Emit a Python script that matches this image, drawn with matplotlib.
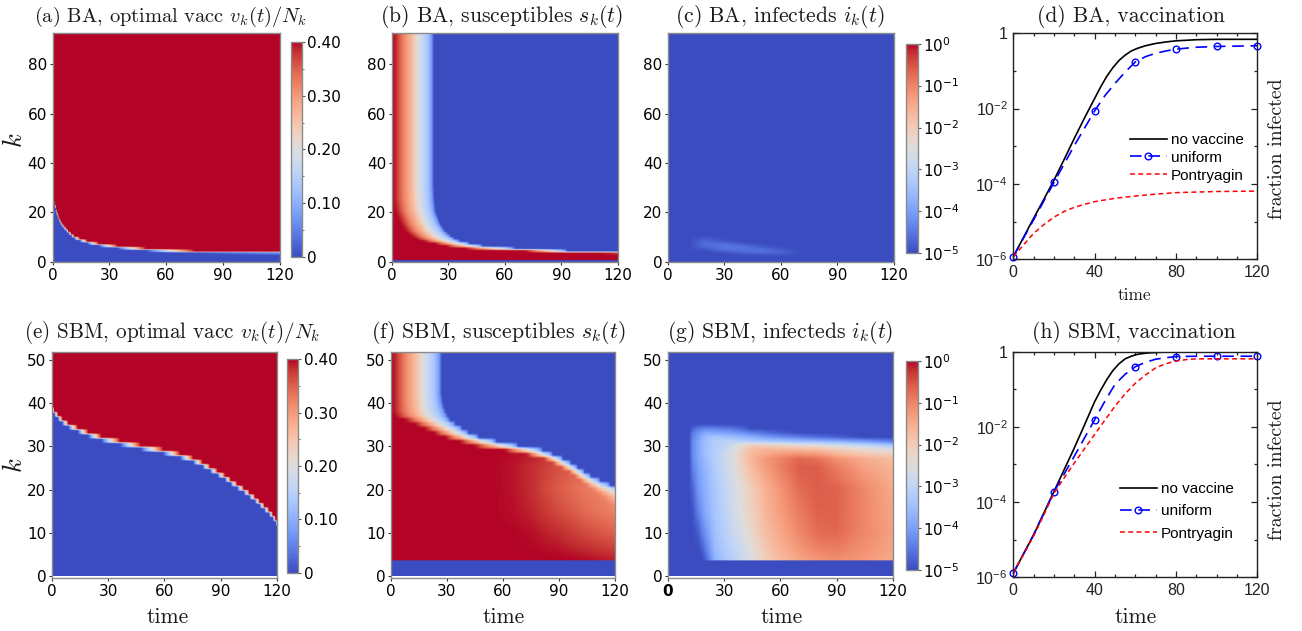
import numpy as np
import matplotlib
matplotlib.use("Agg")
import matplotlib.pyplot as plt
from matplotlib.colors import Normalize, LogNorm
from matplotlib.ticker import MultipleLocator, FixedLocator, NullLocator

plt.rcParams['mathtext.fontset'] = 'cm'
plt.rcParams['axes.unicode_minus'] = False
W, H = 1302, 631

# ---- read values -------------------------------------------------------
# (a) time at which each degree row k has reached the cap
ba_vacc_k   = [3, 4, 5, 6, 7, 8, 9, 10, 11, 12, 13, 14, 15, 16, 17, 18, 19, 20, 21, 22, 23, 24, 25, 26]
ba_vacc_end = [400, 75, 49, 34, 24, 18, 14, 11, 9.5, 8, 6.8, 5.6, 4.6, 3.8, 3.1, 2.6, 2.2, 1.8, 1.4, 1.1, .8, .5, .25, 0]
# (e)
sbm_vacc_k   = list(range(11, 39))
sbm_vacc_end = [400, 120.5, 119, 117.5, 115.5, 113, 110.5, 108, 105, 102, 98.5, 95, 92, 88, 84, 80, 75, 68, 59, 47,
                36, 26, 19, 13.5, 8.5, 5.2, 3, 1]
# (b) start and end of the red-to-blue front per row
ba_sus_k     = [2, 3, 4, 5, 6, 7, 8, 9, 10, 12, 15, 20, 25, 30, 93]
ba_sus_start = [999, 110, 70, 38, 28, 22, 16, 12, 9.5, 6.5, 4, 1.2, 0, 0, 0]
ba_sus_end   = [1200, 200, 93, 65, 48, 41, 36, 33, 31, 28, 25.5, 23, 22.3, 22, 22]
# (f)
sbm_sus_start_k = [4, 14.3, 19.7, 24.3, 27.3, 28.9, 30, 32.3, 35, 37, 38, 52]
sbm_sus_start   = [300, 120, 108, 94, 80, 62, 44, 26, 12, 1.4, 0, 0]
sbm_sus_end_k   = [4, 20.5, 22.7, 26.6, 29.2, 30.4, 32.3, 35.7, 37.5, 39.5, 42, 52]
sbm_sus_end     = [300, 120, 108, 94, 80, 62, 44, 32, 29.5, 27.8, 27, 27]
# colour position across a front
front_pos = [0, .08, .27, .48, .62, .85, .95, 1]
front_col = [1, .97, .80, .65, .50, .33, .18, 0]
# (f) plateau level behind the front
plateau_t = [0, 45, 55, 65, 75, 90, 105, 120]
plateau_k = [4, 10, 15, 20, 25, 30, 52]
plateau = [[1, 1, 1, 1.00, 1.00, 1.00, .99, .97],
           [1, 1, 1, .998, .99, .96, .91, .87],
           [1, 1, .998, .99, .97, .91, .85, .80],
           [1, 1, .998, .985, .96, .88, .82, .79],
           [1, 1, .998, .985, .96, .90, .85, .82],
           [1, 1, 1, .995, .99, .95, .90, .86],
           [1, 1, 1, 1, 1.0, 1.0, 1.0, 1.0]]
# (c) colour position of the faint ridge
ba_inf_t = [0, 10, 20, 30, 40, 50, 60, 70, 120]
ba_inf_k = [2, 3, 4, 5, 6, 7, 8, 9, 10, 11]
ba_inf = [[0, 0, 0, 0, 0, 0, 0, 0, 0],
          [0, 0, 0, 0, .02, .03, .03, 0, 0],
          [0, 0, 0, .03, .07, .08, .06, .01, 0],
          [0, 0, .03, .08, .09, .08, .03, 0, 0],
          [0, 0, .06, .10, .09, .04, .01, 0, 0],
          [0, 0, .08, .09, .05, .01, 0, 0, 0],
          [0, 0, .07, .05, .01, 0, 0, 0, 0],
          [0, 0, .05, .01, 0, 0, 0, 0, 0],
          [0, 0, .02, 0, 0, 0, 0, 0, 0],
          [0, 0, 0, 0, 0, 0, 0, 0, 0]]
# (g)
sbm_inf_t = [0, 11, 13, 16, 18, 20, 25, 33, 40, 45, 52, 60, 70, 80, 90, 105, 120]
sbm_inf_k = [3, 4, 6, 10, 15, 20, 25, 27, 28, 29, 30, 31, 32, 33, 34, 35, 52]
sbm_inf = [[0, 0, 0, 0, 0, .06, .27, .36, .44, .49, .59, .66, .72, .76, .78, .75, .71],
           [0, 0, 0, 0, 0, .06, .27, .36, .44, .49, .59, .66, .72, .76, .78, .75, .71],
           [0, 0, 0, 0, .04, .11, .29, .38, .45, .51, .61, .68, .75, .80, .81, .77, .72],
           [0, 0, 0, .04, .12, .18, .31, .41, .49, .55, .65, .71, .79, .85, .86, .79, .73],
           [0, 0, .02, .13, .19, .24, .33, .43, .52, .58, .67, .74, .82, .87, .87, .79, .72],
           [0, 0, .06, .18, .22, .26, .34, .44, .53, .60, .69, .76, .85, .88, .87, .79, .71],
           [0, 0, .12, .20, .24, .28, .36, .46, .58, .66, .74, .81, .88, .88, .82, .73, .68],
           [0, 0, .14, .22, .26, .30, .37, .47, .60, .68, .75, .80, .86, .84, .77, .70, .65],
           [0, 0, .15, .22, .27, .31, .37, .47, .60, .67, .71, .75, .77, .75, .68, .62, .58],
           [0, 0, .15, .22, .27, .31, .37, .45, .58, .65, .68, .68, .68, .66, .60, .55, .50],
           [0, 0, .15, .22, .27, .31, .36, .42, .55, .60, .60, .58, .55, .52, .48, .42, .35],
           [0, 0, .15, .22, .27, .31, .36, .40, .38, .36, .34, .32, .30, .28, .25, .20, .12],
           [0, 0, .13, .20, .25, .29, .33, .30, .27, .25, .20, .16, .12, .08, .05, 0, 0],
           [0, 0, .10, .17, .20, .23, .22, .20, .16, .12, .08, .04, 0, 0, 0, 0, 0],
           [0, 0, .05, .10, .12, .14, .12, .10, .05, 0, 0, 0, 0, 0, 0, 0, 0],
           [0]*17,
           [0]*17]

# (d) log10 fraction infected
d_none_t = [0, 5, 10, 15, 20, 25, 30, 35, 40, 43, 46, 49, 52, 55, 58, 61, 65, 70, 75, 80, 90, 100, 120]
d_none   = [-5.93, -5.42, -4.91, -4.41, -3.9, -3.35, -2.79, -2.25, -1.73, -1.42, -1.14, -.91, -.72, -.58, -.47, -.40,
            -.33, -.27, -.23, -.2, -.17, -.16, -.16]
d_unif_t = [0, 10, 20, 30, 40, 45, 50, 55, 60, 65, 70, 75, 80, 90, 100, 110, 120]
d_unif   = [-5.93, -4.95, -3.96, -2.98, -2.06, -1.66, -1.33, -1.03, -.76, -.62, -.53, -.47, -.42, -.37, -.35, -.34, -.33]
d_pont_t = [0, 5, 10, 15, 20, 25, 30, 35, 40, 50, 60, 70, 80, 100, 120]
d_pont   = [-5.93, -5.62, -5.31, -5.08, -4.88, -4.73, -4.62, -4.54, -4.47, -4.38, -4.32, -4.27, -4.23, -4.2, -4.19]
# (h)
h_none_t = [0, 10, 20, 30, 35, 40, 43, 46, 49, 52, 55, 58, 61, 65, 70, 75, 80, 120]
h_none   = [-5.89, -4.87, -3.72, -2.56, -1.95, -1.33, -1.02, -.74, -.50, -.32, -.19, -.12, -.07, -.04, -.02, -.01, 0, 0]
h_unif_t = [0, 10, 20, 30, 40, 45, 50, 55, 60, 65, 70, 75, 80, 90, 100, 110, 120]
h_unif   = [-5.89, -4.87, -3.73, -2.78, -1.81, -1.32, -.87, -.60, -.40, -.28, -.2, -.16, -.13, -.12, -.12, -.12, -.12]
h_pont_t = [0, 10, 15, 20, 30, 40, 50, 55, 60, 65, 70, 75, 80, 85, 90, 100, 120]
h_pont   = [-5.89, -4.9, -4.34, -3.76, -2.96, -2.2, -1.45, -1.12, -.84, -.62, -.43, -.32, -.25, -.21, -.19, -.19, -.19]

time_ticks = [0, 30, 60, 90, 120]
curve_ticks = [0, 40, 80, 120]
ba_k_ticks = [0, 20, 40, 60, 80]
sbm_k_ticks = [0, 10, 20, 30, 40, 50]
vacc_ticks = [0, .1, .2, .3, .4]
vacc_labels = ['0', '0.10', '0.20', '0.30', '0.40']
log_ticks = [1e-5, 1e-4, 1e-3, 1e-2, 1e-1, 1]
log_labels = [r'$\mathdefault{10^{-5}}$', r'$\mathdefault{10^{-4}}$', r'$\mathdefault{10^{-3}}$',
              r'$\mathdefault{10^{-2}}$', r'$\mathdefault{10^{-1}}$', r'$\mathdefault{10^{0}}$']
decades = [-6, -4, -2, 0]
decade_labels = [r'$\mathdefault{10^{-6}}$', r'$\mathdefault{10^{-4}}$', r'$\mathdefault{10^{-2}}$', '1']

# ---- grids built from the tables --------------------------------------
tg = np.arange(0, 120.01, 0.5)


def refine(rows, Z, kf, blend=1.0):
    """Values on the fine k grid; blend < 1 keeps the rows visibly stepped."""
    Z = np.asarray(Z, float)
    rows = np.asarray(rows, float)
    i = np.clip(np.searchsorted(rows, kf) - 1, 0, rows.size - 2)
    u = (kf - rows[i]) / (rows[i + 1] - rows[i])
    u = np.clip((u - .5) / blend + .5, 0, 1)
    return Z[i] * (1 - u)[:, None] + Z[i + 1] * u[:, None]


def switch_rows(rows_k, ends, nrows):
    rows = np.arange(nrows)
    Z = np.ones((nrows, tg.size))
    for r in rows:
        if r < rows_k[0]:
            Z[r] = 0
        elif r <= rows_k[-1]:
            i = rows_k.index(r)
            end = ends[i]
            start = ends[i + 1] if i + 1 < len(ends) else 0
            Z[r] = np.clip((tg - start) / max(end - start, .2), 0, 1)
    return Z


def front_rows(starts, ends, levels=None):
    f = (tg[None, :] - starts[:, None]) / (ends - starts)[:, None]
    v = np.interp(f, front_pos, front_col)
    return v if levels is None else v * levels


def table_rows(rows, t_knots, table, kf):
    by_t = np.array([np.interp(tg, t_knots, row) for row in table])
    return refine(rows, by_t, kf)


vacc_norm = Normalize(0, .4)
log_norm = LogNorm(1e-5, 1)
to_log = lambda v: 10.0 ** (5 * (v - 1))

kf_ba = np.arange(0, 93.01, .1)
kf_sbm = np.arange(0, 52.01, .05)

Z_a = .4 * refine(np.arange(94) + .5, switch_rows(ba_vacc_k, ba_vacc_end, 94), kf_ba, .45)
Z_e = .4 * refine(np.arange(53) + .2, switch_rows(sbm_vacc_k, sbm_vacc_end, 53), kf_sbm, .35)

rows_b = np.arange(94)
V_b = front_rows(np.interp(rows_b, ba_sus_k, ba_sus_start), np.interp(rows_b, ba_sus_k, ba_sus_end))
V_b = refine(rows_b + .5, V_b, kf_ba, .7)
V_b[kf_ba < .8] = 0

rows_f = np.arange(53)
plate = np.array([np.interp(tg, plateau_t, row) for row in plateau])
plate = refine(plateau_k, plate, rows_f)
V_f = front_rows(np.interp(rows_f, sbm_sus_start_k, sbm_sus_start),
                 np.interp(rows_f, sbm_sus_end_k, sbm_sus_end), plate)
V_f = refine(rows_f, V_f, kf_sbm, .7)
V_f[kf_sbm < 3.6] = 0

V_c = table_rows(ba_inf_k, ba_inf_t, ba_inf, kf_ba)
V_g = table_rows(sbm_inf_k, sbm_inf_t, sbm_inf, kf_sbm)
V_g[kf_sbm < 3.6] = 0

# ---- figure -----------------------------------------------------------
fig = plt.figure(figsize=(W / 100, H / 100), dpi=100)


def box(x0, y0, x1, y1):
    return [x0 / W, 1 - y1 / H, (x1 - x0) / W, (y1 - y0) / H]


SERIF = 'cmr10'


def ftext(x, y, s, size, **kw):
    kw.setdefault('ha', 'center')
    kw.setdefault('va', 'center')
    fig.text(x / W, 1 - y / H, s, fontsize=size, family=SERIF, color='#1a1a1a', **kw)


def heat(rect, Z, norm, kf, yticks, ylim):
    ax = fig.add_axes(box(*rect))
    im = ax.imshow(Z, origin='lower', aspect='auto', cmap='coolwarm', norm=norm,
                   extent=[0, 120, kf[0], kf[-1]], interpolation='bilinear')
    ax.set_xlim(0, 120)
    ax.set_ylim(*ylim)
    ax.set_xticks(time_ticks)
    ax.set_yticks(yticks)
    ax.tick_params(labelsize=11, length=2.5, width=.8, pad=1.5, color='#333333')
    for s in ax.spines.values():
        s.set_color('#8a8a8a')
        s.set_linewidth(1)
    return ax, im


def cbar(rect, im, ticks, labels, minor=None):
    cax = fig.add_axes(box(*rect))
    cb = fig.colorbar(im, cax=cax)
    cb.set_ticks(ticks)
    cb.set_ticklabels(labels)
    cax.yaxis.set_minor_locator(FixedLocator(minor) if minor else NullLocator())
    cax.tick_params(which='major', labelsize=11, length=2.5, width=.8, pad=1.5, color='#555555')
    cax.tick_params(which='minor', length=1.5, width=.6, color='#555555')
    cb.outline.set_edgecolor('#8a8a8a')
    cb.outline.set_linewidth(1)
    return cb


ylim_ba = (-.2, 92.7)
ylim_sbm = (-.4, 51.8)
vacc_minor = [.05, .15, .25, .35]

ax_a, im = heat((52.5, 33, 279.5, 262), Z_a, vacc_norm, kf_ba, ba_k_ticks, ylim_ba)
cbar((290.7, 42.3, 301.7, 256.7), im, vacc_ticks, vacc_labels, vacc_minor)
heat((391.7, 33, 617.7, 262), to_log(V_b), log_norm, kf_ba, ba_k_ticks, ylim_ba)
ax_c, im = heat((668, 33, 893.7, 262), to_log(V_c), log_norm, kf_ba, ba_k_ticks, ylim_ba)
cbar((905.7, 43.7, 917.7, 253.3), im, log_ticks, log_labels)

ax_e, im = heat((51.7, 351.7, 277, 578), Z_e, vacc_norm, kf_sbm, sbm_k_ticks, ylim_sbm)
cbar((287.3, 359.3, 298.3, 572.7), im, vacc_ticks, vacc_labels, vacc_minor)
heat((390.7, 351.7, 615, 578), to_log(V_f), log_norm, kf_sbm, sbm_k_ticks, ylim_sbm)
ax_g, im = heat((668, 351.7, 892.7, 578), to_log(V_g), log_norm, kf_sbm, sbm_k_ticks, ylim_sbm)
cbar((905.7, 361, 917.7, 570), im, log_ticks, log_labels)
ax_g.get_xticklabels()[0].set_fontweight('bold')


def curves(rect, none, unif, pont, legend_xy, spacing):
    ax = fig.add_axes(box(*rect))
    ax.plot(none[0], 10.0 ** np.array(none[1]), color='black', lw=1.2, label='no vaccine')
    marks = [i for i, t in enumerate(unif[0]) if t % 20 == 0]
    ax.plot(unif[0], 10.0 ** np.array(unif[1]), color='#0000ff', lw=1.2, dashes=(7, 4), marker='o', ms=4.8,
            mfc='none', mew=1.0, markevery=marks, label='uniform', clip_on=False)
    ax.plot(pont[0], 10.0 ** np.array(pont[1]), color='#ff0000', lw=1.1, dashes=(3.2, 2.2), label='Pontryagin')
    ax.set_yscale('log')
    ax.set_xlim(0, 120)
    ax.set_ylim(1e-6, 1)
    ax.set_xticks(curve_ticks)
    ax.xaxis.set_minor_locator(MultipleLocator(10))
    ax.yaxis.set_major_locator(FixedLocator([10.0 ** d for d in decades]))
    ax.set_yticklabels(decade_labels, family='Liberation Sans')
    ax.yaxis.set_minor_locator(FixedLocator([1e-5, 1e-3, 1e-1]))
    ax.yaxis.set_minor_formatter(plt.NullFormatter())
    for lab in ax.get_xticklabels():
        lab.set_family('Liberation Sans')
    ax.tick_params(which='major', direction='in', top=True, right=True, length=4.5, width=.9,
                   labelsize=11.5, pad=4, color='#222222', labelcolor='#222222')
    ax.tick_params(which='minor', direction='in', top=True, right=True, length=2.5, width=.9, color='#222222')
    for s in ax.spines.values():
        s.set_color('#222222')
        s.set_linewidth(1)
    ax.legend(loc='upper left', bbox_to_anchor=(legend_xy[0] / W, 1 - legend_xy[1] / H),
              bbox_transform=fig.transFigure, frameon=False, borderpad=0, borderaxespad=0,
              labelspacing=spacing, handlelength=2.4, handletextpad=.3,
              prop={'family': 'Liberation Sans', 'size': 11})
    return ax


curves((1013.3, 33.3, 1257.3, 259.3), (d_none_t, d_none), (d_unif_t, d_unif), (d_pont_t, d_pont), (1130, 133), .25)
curves((1013.3, 351.7, 1257.3, 577.3), (h_none_t, h_none), (h_unif_t, h_unif), (h_pont_t, h_pont), (1120, 482), .55)

# titles and axis labels
ftext(170.5, 17, r'(a) BA, optimal vacc $v_k(t)/N_k$', 14.7)
ftext(501, 17, r'(b) BA, susceptibles $s_k(t)$', 15.6)
ftext(780, 17, r'(c) BA, infecteds $i_k(t)$', 15.6)
ftext(1131, 17, '(d) BA, vaccination', 15.5)
ftext(172, 333, r'(e) SBM, optimal vacc $v_k(t)/N_k$', 15.2)
ftext(498.5, 333, r'(f) SBM, susceptibles $s_k(t)$', 15.7)
ftext(780.5, 333, r'(g) SBM, infecteds $i_k(t)$', 15.6)
ftext(1134, 333, '(h) SBM, vaccination', 15.5)
ftext(15, 140, '$k$', 19, rotation=90)
ftext(15, 465, '$k$', 19, rotation=90)
ftext(168, 617, 'time', 15.5)
ftext(504, 617, 'time', 15.5)
ftext(782, 617, 'time', 15.5)
ftext(1136, 617, 'time', 15.5)
ftext(1135, 295, 'time', 12.5)
ftext(1277, 149, 'fraction infected', 14.3, rotation=90)
ftext(1277, 470, 'fraction infected', 14.3, rotation=90)

fig.savefig('out.png', dpi=100)
